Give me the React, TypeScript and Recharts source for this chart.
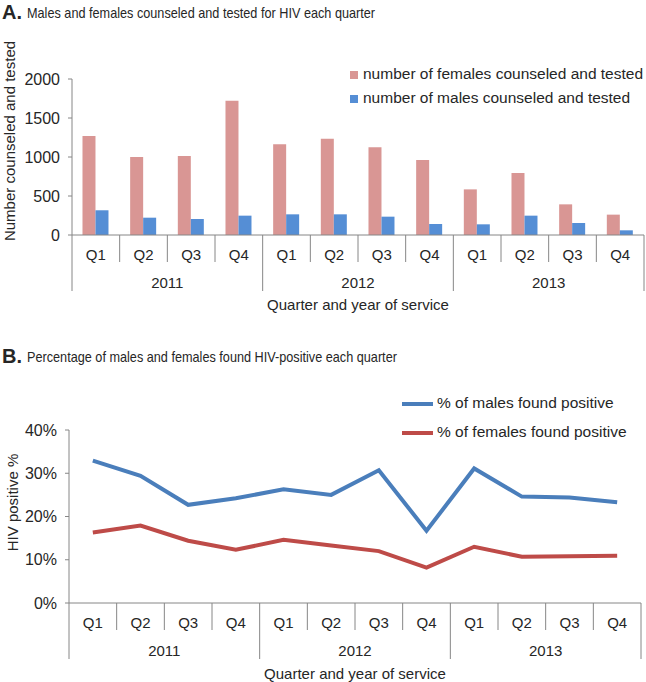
import { BarChart, Bar, LineChart, Line, XAxis, YAxis, Legend } from "recharts";

const quarters = ["Q1", "Q2", "Q3", "Q4", "Q1", "Q2", "Q3", "Q4", "Q1", "Q2", "Q3", "Q4"];
const years = ["2011", "2012", "2013"];
const femalesTested = [1270, 1000, 1013, 1722, 1162, 1235, 1124, 962, 585, 795, 393, 261];
const malesTested = [317, 222, 205, 248, 265, 265, 235, 141, 137, 248, 154, 60];
const malesPositive = [32.9, 29.4, 22.7, 24.2, 26.3, 25.0, 30.7, 16.7, 31.1, 24.6, 24.4, 23.3];
const femalesPositive = [16.3, 17.9, 14.4, 12.3, 14.6, 13.3, 12.0, 8.2, 13.0, 10.7, 10.8, 10.9];
const countTicks = [0, 500, 1000, 1500, 2000];
const pctTicks = [0, 10, 20, 30, 40];

const AXIS = "#868686";
const TEXT = "#262626";
const FONT = "'Liberation Sans', Arial, sans-serif";

const countData = quarters.map((q, i) => ({
  slot: years[Math.floor(i / 4)] + " " + q,
  females: femalesTested[i],
  males: malesTested[i],
}));

const pctData = quarters.map((q, i) => ({
  slot: years[Math.floor(i / 4)] + " " + q,
  males: malesPositive[i],
  females: femalesPositive[i],
}));

// two-level category axis: quarter row + year row with separators
const QuarterTick = (props: any) => {
  const { x, y, index, band } = props;
  const left = x - band / 2;
  const isYearStart = index % 4 === 0;
  return (
    <g>
      <line x1={left} x2={left} y1={y} y2={y + (isYearStart ? 56 : 27)} stroke={AXIS} />
      {index === quarters.length - 1 && (
        <line x1={left + band} x2={left + band} y1={y} y2={y + 56} stroke={AXIS} />
      )}
      <text x={x} y={y + 19} textAnchor="middle" dominantBaseline="central" fontSize={15} fill={TEXT}>
        {quarters[index]}
      </text>
      {index % 4 === 1 && (
        <text x={x + band / 2} y={y + 47} textAnchor="middle" dominantBaseline="central" fontSize={15} fill={TEXT}>
          {years[Math.floor(index / 4)]}
        </text>
      )}
    </g>
  );
};

const xTitle = (dy: number) => (p: any) => {
  const vb = p.viewBox;
  return (
    <text x={vb.x + vb.width / 2} y={vb.y + dy} textAnchor="middle" dominantBaseline="central" fontSize={15} fill={TEXT}>
      Quarter and year of service
    </text>
  );
};

const yTitle = (value: string, x: number, shift: number) => (p: any) => {
  const vb = p.viewBox;
  const cy = vb.y + vb.height / 2 + shift;
  return (
    <text x={x} y={cy} transform={`rotate(-90 ${x} ${cy})`} textAnchor="middle" dominantBaseline="central" fontSize={15} fill={TEXT}>
      {value}
    </text>
  );
};

const BarLegend = () => (
  <div style={{ fontSize: 15.5, color: TEXT, lineHeight: "24px", whiteSpace: "nowrap" }}>
    <div>
      <span style={{ display: "inline-block", width: 8, height: 8, background: "#D99694", marginRight: 5 }} />
      number of females counseled and tested
    </div>
    <div>
      <span style={{ display: "inline-block", width: 8, height: 8, background: "#558ED5", marginRight: 5 }} />
      number of males counseled and tested
    </div>
  </div>
);

const LineLegend = () => (
  <div style={{ fontSize: 15.5, color: TEXT, lineHeight: "29px", whiteSpace: "nowrap" }}>
    <div>
      <span style={{ display: "inline-block", width: 31, height: 4, background: "#4A7EBB", marginRight: 4, verticalAlign: "middle" }} />
      % of males found positive
    </div>
    <div>
      <span style={{ display: "inline-block", width: 31, height: 4, background: "#BE4B48", marginRight: 4, verticalAlign: "middle" }} />
      % of females found positive
    </div>
  </div>
);

const Title = ({ letter, text, top }: { letter: string; text: string; top: number }) => (
  <div style={{ position: "absolute", left: 2, top, height: 24, display: "flex", alignItems: "center", color: TEXT, whiteSpace: "nowrap" }}>
    <span style={{ fontWeight: "bold", fontSize: 20, marginRight: 5 }}>{letter}</span>
    <span style={{ fontSize: 15, display: "inline-block", transform: "scaleX(0.845)", transformOrigin: "left center" }}>
      {text}
    </span>
  </div>
);

const App = () => {
  const band = 572 / quarters.length;

  return (
    <div style={{ position: "absolute", left: 0, top: 0, width: 646, height: 682, overflow: "hidden", fontFamily: FONT, background: "#fff" }}>
      <Title letter="A." text="Males and females counseled and tested for HIV each quarter" top={0} />

      <div style={{ position: "absolute", left: 0, top: 0 }}>
        <BarChart
          width={646}
          height={330}
          data={countData}
          margin={{ top: 79, right: 2, bottom: 15, left: 0 }}
          barCategoryGap="22%"
          barGap={0}
        >
          <XAxis
            dataKey="slot"
            height={80}
            interval={0}
            tickLine={false}
            tickSize={0}
            tickMargin={0}
            axisLine={{ stroke: AXIS }}
            tick={(p: any) => <QuarterTick {...p} band={band} />}
            label={{ content: xTitle(69) }}
          />
          <YAxis
            width={72}
            domain={[0, 2000]}
            ticks={countTicks}
            tickSize={4}
            tickMargin={8}
            axisLine={{ stroke: AXIS }}
            tickLine={{ stroke: AXIS }}
            tick={{ fontSize: 16, fill: TEXT }}
            label={{ content: yTitle("Number counseled and tested", 9, -16) }}
          />
          <Legend
            layout="vertical"
            verticalAlign="middle"
            align="center"
            wrapperStyle={{ top: 62, left: 350, width: 300 }}
            content={() => <BarLegend />}
          />
          <Bar dataKey="females" fill="#D99694" isAnimationActive={false} />
          <Bar dataKey="males" fill="#558ED5" isAnimationActive={false} />
        </BarChart>
      </div>

      <Title letter="B." text="Percentage of males and females found HIV-positive each quarter" top={344} />

      <div style={{ position: "absolute", left: 0, top: 330 }}>
        <LineChart
          width={646}
          height={352}
          data={pctData}
          margin={{ top: 100, right: 5, bottom: 9, left: 0 }}
        >
          <XAxis
            dataKey="slot"
            height={70}
            interval={0}
            padding={{ left: band / 2, right: band / 2 }}
            tickLine={false}
            tickSize={0}
            tickMargin={0}
            axisLine={{ stroke: AXIS }}
            tick={(p: any) => <QuarterTick {...p} band={band} />}
            label={{ content: xTitle(70) }}
          />
          <YAxis
            width={69}
            domain={[0, 40]}
            ticks={pctTicks}
            tickFormatter={(v: number) => v + "%"}
            tickSize={4}
            tickMargin={8}
            axisLine={{ stroke: AXIS }}
            tickLine={{ stroke: AXIS }}
            tick={{ fontSize: 16, fill: TEXT }}
            label={{ content: yTitle("HIV positive %", 12, -14) }}
          />
          <Legend
            layout="vertical"
            verticalAlign="middle"
            align="center"
            wrapperStyle={{ top: 58, left: 402, width: 240 }}
            content={() => <LineLegend />}
          />
          <Line type="linear" dataKey="males" stroke="#4A7EBB" strokeWidth={4} dot={false} isAnimationActive={false} />
          <Line type="linear" dataKey="females" stroke="#BE4B48" strokeWidth={4} dot={false} isAnimationActive={false} />
        </LineChart>
      </div>
    </div>
  );
};

export default App;
